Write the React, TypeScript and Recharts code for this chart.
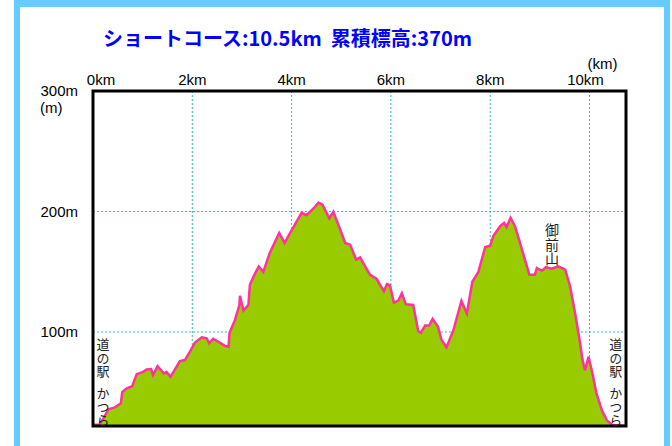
import { AreaChart, Area, XAxis, YAxis, CartesianGrid, ReferenceArea, ReferenceDot } from 'recharts';

// 距離 (km)
const distanceKm = [
  0, 0.13, 0.21, 0.31, 0.44, 0.56, 0.59, 0.68, 0.79, 0.88,
  1.01, 1.08, 1.17, 1.21, 1.3, 1.43, 1.48, 1.56, 1.75, 1.85,
  1.95, 2.05, 2.19, 2.29, 2.34, 2.42, 2.56, 2.66, 2.73, 2.75,
  2.86, 2.95, 2.96, 3.03, 3.13, 3.16, 3.25, 3.34, 3.43, 3.56,
  3.75, 3.86, 3.97, 4.03, 4.2, 4.3, 4.44, 4.54, 4.62, 4.76,
  4.84, 4.94, 5.08, 5.18, 5.3, 5.38, 5.58, 5.71, 5.86, 5.92,
  5.98, 6.06, 6.15, 6.22, 6.3, 6.45, 6.55, 6.6, 6.69, 6.77,
  6.84, 6.95, 7.02, 7.12, 7.26, 7.42, 7.53, 7.64, 7.76, 7.9,
  8.0, 8.06, 8.2, 8.28, 8.33, 8.41, 8.5, 8.63, 8.79, 8.9,
  8.94, 9.04, 9.12, 9.24, 9.37, 9.51, 9.61, 9.71, 9.79, 9.86,
  9.91, 9.98, 10.06, 10.14, 10.25, 10.35, 10.45, 10.55, 10.69,
];

// 標高 (m)
const elevationM = [
  23, 23.3, 28.3, 35.8, 37.5, 40.8, 50.3, 53.3, 55, 65,
  66.9, 68.9, 69.2, 64.2, 71.7, 65.6, 66.9, 62.8, 75.8, 76.7,
  83.6, 91.1, 95.6, 94.8, 90.6, 94.4, 91.1, 88.3, 87.8, 99.4,
  110, 122.5, 130, 117.8, 122.5, 139.2, 147.5, 154.4, 149.8, 165.6,
  182.2, 173.9, 182.2, 186.4, 198.9, 196.9, 202.5, 207.2, 205.8, 194.2,
  199.7, 189.2, 173.9, 172.5, 160, 161.9, 147.5, 144.2, 133.8, 139.8,
  138.8, 124.4, 126.1, 132.2, 123.1, 122.5, 100.8, 99.4, 105.3, 105.3,
  110.8, 104.4, 93.3, 87.3, 101.7, 125.8, 115.4, 141.7, 149.6, 170.6,
  171.7, 179.4, 187.8, 190.6, 187.2, 194.7, 187.8, 169.8, 147.5, 147.5,
  153.1, 150.8, 153.9, 152.5, 154.4, 151.7, 137.8, 115.6, 96.1, 76.7,
  68.3, 79.4, 65.6, 49, 35, 26.7, 23.1, 22.5, 22.5,
];

const xTicks = [0, 2, 4, 6, 8, 10];
const yTicks = [100, 200, 300];
const X_MAX = 10.735;
const Y_MIN = 22;
const Y_MAX = 300;

const TITLE = 'ショートコース:10.5km  累積標高:370m';
const STATION = ['道の駅', 'かつら'];
const SUMMIT = ['御前山'];

const data = distanceKm.map((km, i) => ({ km, elev: elevationM[i] }));

const LABEL_FONT = '"Noto Sans CJK JP", "Noto Sans", sans-serif';
const TICK_FONT = '"Liberation Sans", Arial, sans-serif';

function XTick({ x, y, payload }: any) {
  const v = payload.value;
  const shift = v === 0 ? 8 : v === 10 ? -4 : 0;
  return (
    <g>
      <text x={x + shift} y={y - 6} textAnchor="middle" fontSize={15} fontFamily={TICK_FONT} fill="#000">
        {v}km
      </text>
      {v === 10 && (
        <text x={x + 13} y={y - 22} textAnchor="middle" fontSize={15} fontFamily={TICK_FONT} fill="#000">
          (km)
        </text>
      )}
    </g>
  );
}

function YTick({ x, y, payload }: any) {
  const v = payload.value;
  return (
    <g>
      <text x={x} y={y + 5} textAnchor="end" fontSize={15} fontFamily={TICK_FONT} fill="#000">
        {v}m
      </text>
      {v === 300 && (
        <text x={x - 38} y={y + 22} textAnchor="start" fontSize={15} fontFamily={TICK_FONT} fill="#000">
          (m)
        </text>
      )}
    </g>
  );
}

// 縦書きラベル
function VLabel({ viewBox, lines, fontSize, spacing, groupGap }: any) {
  const cx = viewBox.x + viewBox.width / 2;
  const top = viewBox.y + viewBox.height / 2;
  return (
    <g>
      {(lines as string[]).map((t, i) => (
        <text
          key={i}
          x={cx}
          y={top + i * groupGap}
          fontSize={fontSize}
          fontFamily={LABEL_FONT}
          fill="#222"
          letterSpacing={spacing}
          style={{ writingMode: 'vertical-rl', textOrientation: 'upright' } as any}
        >
          {t}
        </text>
      ))}
    </g>
  );
}

export default function App() {
  return (
    <div style={{ position: 'absolute', left: 0, top: 0, width: 672, height: 446, overflow: 'hidden', background: '#fff' }}>
      <div
        style={{
          position: 'absolute', left: 14, top: 0, width: 644, height: 500,
          borderTop: '7px solid #66CCFF', borderLeft: '6px solid #66CCFF', borderRight: '6px solid #66CCFF',
        }}
      />
      <div
        style={{
          position: 'absolute', left: 103, top: 23, whiteSpace: 'pre',
          fontFamily: LABEL_FONT, fontWeight: 700, fontSize: 20, color: '#0000FF',
        }}
      >
        {TITLE}
      </div>
      <div style={{ position: 'absolute', left: 0, top: 0 }}>
        <AreaChart width={672} height={446} data={data} margin={{ top: 61, right: 46, bottom: 20, left: 0 }}>
          <CartesianGrid stroke="#33BBBB" strokeDasharray="2 2" strokeWidth={1} />
          <XAxis
            dataKey="km"
            type="number"
            orientation="top"
            domain={[0, X_MAX]}
            ticks={xTicks}
            height={30}
            axisLine={false}
            tickLine={false}
            tickSize={0}
            tickMargin={0}
            tick={<XTick />}
            interval={0}
          />
          <YAxis
            type="number"
            domain={[Y_MIN, Y_MAX]}
            ticks={yTicks}
            width={93}
            axisLine={false}
            tickLine={false}
            tickSize={0}
            tickMargin={15}
            tick={<YTick />}
            interval={0}
            allowDataOverflow
          />
          <Area
            type="linear"
            dataKey="elev"
            stroke="#FF3399"
            strokeWidth={2.5}
            fill="#99CC00"
            fillOpacity={1}
            isAnimationActive={false}
            dot={false}
            activeDot={false}
          />
          <ReferenceArea x1={0} x2={X_MAX} y1={Y_MIN} y2={Y_MAX} fill="none" stroke="#000" strokeWidth={3} />
          <ReferenceDot x={0.2} y={95} r={1} fill="none" stroke="none"
            label={<VLabel lines={STATION} fontSize={13} spacing={0.5} groupGap={49} />} />
          <ReferenceDot x={10.53} y={95} r={1} fill="none" stroke="none"
            label={<VLabel lines={STATION} fontSize={13} spacing={0.5} groupGap={49} />} />
          <ReferenceDot x={9.245} y={190.5} r={1} fill="none" stroke="none"
            label={<VLabel lines={SUMMIT} fontSize={14} spacing={0.5} groupGap={0} />} />
        </AreaChart>
      </div>
    </div>
  );
}
